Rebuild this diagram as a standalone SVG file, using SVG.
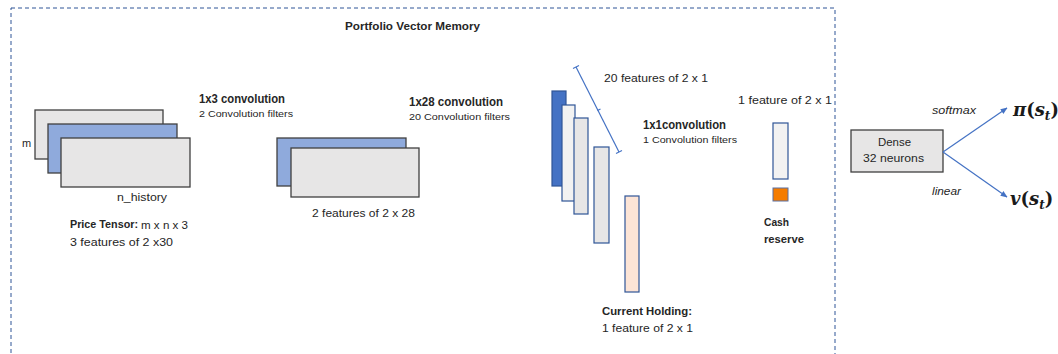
<svg xmlns="http://www.w3.org/2000/svg" width="1058" height="354" viewBox="0 0 1058 354">
  <defs>
    <style>
      text { font-family: "Liberation Sans", Arial, sans-serif; fill: #262626; }
      .b { font-weight: bold; }
      .h { font-size: 12px; }
      .s { font-size: 9px; }
      .m { font-size: 11px; }
      .it { font-style: italic; font-size: 10.5px; }
      .math { font-family: "DejaVu Serif", "Liberation Serif", serif; font-weight: bold; font-size: 18px; fill: #1a1a1a; }
      .mi { font-style: italic; }
      .gray { fill: #e7e6e6; stroke: #404040; stroke-width: 1.3; }
      .blue { fill: #8faadc; stroke: #404040; stroke-width: 1.3; }
      .bar { stroke: #2f5597; stroke-width: 1.2; }
      .link { stroke: #4472c4; stroke-width: 1.2; fill: none; }
    </style>
    <marker id="arrow" viewBox="0 0 10 10" refX="9" refY="5" markerWidth="7" markerHeight="7" orient="auto-start-reverse" markerUnits="userSpaceOnUse">
      <path d="M0,1 L10,5 L0,9 z" fill="#4472c4"/>
    </marker>
  </defs>

  <rect width="1058" height="354" fill="#ffffff"/>

  <!-- dashed frame of the memory block -->
  <rect id="pvm-frame" x="11" y="8" width="824" height="360" fill="none" stroke="#2f5597" stroke-width="1" stroke-dasharray="4 3"/>
  <text class="b m" x="345" y="30" textLength="135" lengthAdjust="spacingAndGlyphs">Portfolio Vector Memory</text>

  <!-- input price tensor -->
  <g id="price-tensor">
    <rect class="gray" x="35" y="110" width="128" height="49"/>
    <rect class="blue" x="48" y="124" width="129" height="49"/>
    <rect class="gray" x="61" y="138" width="129" height="49"/>
    <text class="m" x="22" y="147">m</text>
    <text class="m" x="117" y="201" textLength="50" lengthAdjust="spacingAndGlyphs">n_history</text>
    <text class="b m" x="70" y="228" textLength="68" lengthAdjust="spacingAndGlyphs">Price Tensor:</text>
    <text class="m" x="141" y="229" textLength="47" lengthAdjust="spacingAndGlyphs">m x n x 3</text>
    <text class="m" x="70" y="246" textLength="103" lengthAdjust="spacingAndGlyphs">3 features of 2 x30</text>
  </g>

  <!-- first convolution -->
  <g id="conv-1x3">
    <text class="b h" x="199" y="103" textLength="86" lengthAdjust="spacingAndGlyphs">1x3 convolution</text>
    <text class="s" x="199" y="117" textLength="94" lengthAdjust="spacingAndGlyphs">2  Convolution filters</text>
  </g>

  <!-- two feature maps -->
  <g id="features-2x28">
    <rect class="blue" x="277" y="138" width="129" height="48"/>
    <rect class="gray" x="291" y="148" width="128" height="49"/>
    <text class="m" x="312" y="217" textLength="103" lengthAdjust="spacingAndGlyphs">2 features of 2 x 28</text>
  </g>

  <!-- second convolution -->
  <g id="conv-1x28">
    <text class="b h" x="409" y="106" textLength="94" lengthAdjust="spacingAndGlyphs">1x28 convolution</text>
    <text class="s" x="409" y="120" textLength="101" lengthAdjust="spacingAndGlyphs">20  Convolution filters</text>
  </g>

  <!-- twenty 2x1 feature columns -->
  <g id="features-2x1">
    <rect class="bar" x="552" y="91" width="14" height="95" fill="#4472c4"/>
    <rect class="bar" x="562" y="105" width="13" height="96" fill="#f2f2f2"/>
    <rect class="bar" x="574" y="118" width="14" height="96" fill="#e7e6e6"/>
    <rect class="bar" x="594" y="147" width="15" height="96" fill="#e7e6e6"/>
    <g class="link">
      <line x1="576" y1="67" x2="619" y2="152"/>
      <line x1="573" y1="68.5" x2="579" y2="65.5"/>
      <line x1="616" y1="153.5" x2="622" y2="150.5"/>
      <line x1="597.5" y1="110.5" x2="600.5" y2="109"/>
    </g>
    <text class="m" x="604" y="82" textLength="104" lengthAdjust="spacingAndGlyphs">20 features of 2 x 1</text>
  </g>

  <!-- current holding column -->
  <g id="current-holding">
    <rect class="bar" x="625" y="196" width="14" height="96" fill="#fce4d6" stroke="#5a7bbf"/>
    <text class="b m" x="602" y="315" textLength="90" lengthAdjust="spacingAndGlyphs">Current Holding:</text>
    <text class="m" x="602" y="332" textLength="91" lengthAdjust="spacingAndGlyphs">1 feature of 2 x 1</text>
  </g>

  <!-- 1x1 convolution -->
  <g id="conv-1x1">
    <text class="b h" x="643" y="129" textLength="83" lengthAdjust="spacingAndGlyphs">1x1convolution</text>
    <text class="s" x="643" y="143" textLength="94" lengthAdjust="spacingAndGlyphs">1  Convolution filters</text>
  </g>

  <!-- single output column with cash reserve -->
  <g id="output-2x1">
    <text class="m" x="738" y="104" textLength="94" lengthAdjust="spacingAndGlyphs">1 feature  of 2 x 1</text>
    <rect class="bar" x="773" y="123" width="15" height="56" fill="#f2f2f2"/>
  </g>
  <g id="cash-reserve">
    <rect x="773" y="188" width="15" height="13" fill="#f57c00" stroke="#5a6fa0" stroke-width="1"/>
    <text class="b m" x="764" y="226" textLength="25" lengthAdjust="spacingAndGlyphs">Cash</text>
    <text class="b m" x="764" y="243" textLength="40" lengthAdjust="spacingAndGlyphs">reserve</text>
  </g>

  <!-- dense head -->
  <g id="dense">
    <rect x="851" y="130" width="92" height="42" fill="#e7e6e6" stroke="#404040" stroke-width="1.3"/>
    <text class="m" x="878" y="146" textLength="33" lengthAdjust="spacingAndGlyphs">Dense</text>
    <text class="m" x="863" y="162" textLength="61" lengthAdjust="spacingAndGlyphs">32 neurons</text>
  </g>

  <!-- policy and value outputs -->
  <g id="policy">
    <text class="math" x="1013" y="116"><tspan class="mi">π</tspan>(<tspan class="mi">s</tspan><tspan class="mi" font-size="12" dy="4">t</tspan><tspan dy="-4">)</tspan></text>
  </g>
  <g id="value">
    <text class="math" x="1010" y="205"><tspan class="mi">v</tspan>(<tspan class="mi">s</tspan><tspan class="mi" font-size="12" dy="4">t</tspan><tspan dy="-4">)</tspan></text>
  </g>

  <g id="connectors">
    <line class="link" x1="943" y1="152" x2="1007" y2="108" marker-end="url(#arrow)"/>
    <line class="link" x1="943" y1="152" x2="1007" y2="197" marker-end="url(#arrow)"/>
    <text class="it" x="932" y="114" textLength="44" lengthAdjust="spacingAndGlyphs">softmax</text>
    <text class="it" x="932" y="195" textLength="29" lengthAdjust="spacingAndGlyphs">linear</text>
  </g>
</svg>
